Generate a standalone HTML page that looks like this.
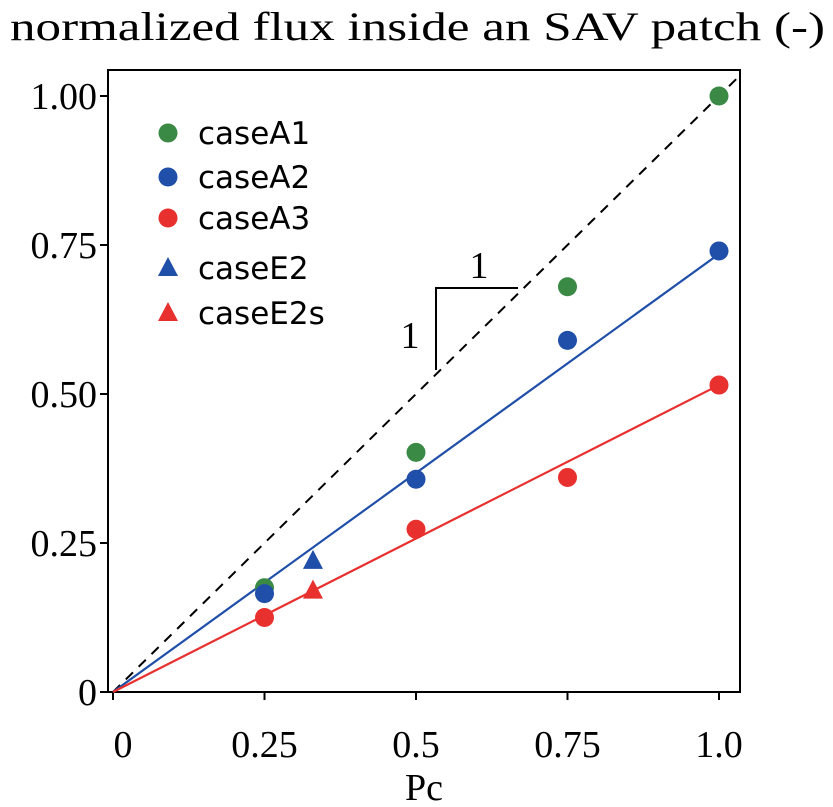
<!DOCTYPE html>
<html><head><meta charset="utf-8"><style>
html,body{margin:0;padding:0;background:#fff;}
svg{display:block;}
.serif{font-family:"Liberation Serif",serif;}
.sans{font-family:"DejaVu Sans","Liberation Sans",sans-serif;}
</style></head><body>
<svg id="chart" width="833" height="807">
<text class="serif" x="10" y="40" font-size="40" textLength="815" lengthAdjust="spacingAndGlyphs">normalized flux inside an SAV patch (-)</text>
<rect x="108" y="70" width="632" height="622" fill="none" stroke="#000" stroke-width="2"/>
<g id="axes"></g>
<g id="marks"></g>
<text class="serif" x="424" y="800" font-size="38" text-anchor="middle">Pc</text>
<g>
<polyline points="436,370 436,288 518,288" fill="none" stroke="#000" stroke-width="2"/>
<text class="serif" x="479" y="278" font-size="38" text-anchor="middle">1</text>
<text class="serif" x="410" y="348" font-size="38" text-anchor="middle">1</text>
</g>
<g id="legend"></g>
</svg>
<script>
const xTicks=[0,0.25,0.5,0.75,1.0];
const xTickLabels=["0","0.25","0.5","0.75","1.0"];
const yTicks=[0,0.25,0.5,0.75,1.0];
const yTickLabels=["0","0.25","0.50","0.75","1.00"];
const pcA=[0.25,0.5,0.75,1.0];
const caseA1=[0.175,0.402,0.68,1.0];
const caseA2=[0.165,0.357,0.59,0.74];
const caseA3=[0.125,0.273,0.36,0.515];
const pcE=[0.33];
const caseE2=[0.22];
const caseE2s=[0.17];
const slopeBlue=0.735;
const slopeRed=0.515;
const NS="http://www.w3.org/2000/svg";
const X=v=>113+v*606, Y=v=>692-v*596;
function mk(tag,attrs,parent,txt){const e=document.createElementNS(NS,tag);for(const k in attrs)e.setAttribute(k,attrs[k]);if(txt!==undefined)e.textContent=txt;parent.appendChild(e);return e;}
const axes=document.getElementById('axes'),marks=document.getElementById('marks'),legend=document.getElementById('legend');
xTicks.forEach((t,i)=>{
 const l=mk('line',{x1:X(t),x2:X(t),y1:692,y2:700,stroke:'#000','stroke-width':2},axes);
 
 
 const tx=mk('text',{x:X(t)+(i==0?10:0),y:757,'font-size':38,'text-anchor':'middle',class:'serif'},axes,xTickLabels[i]);
 
 
});
yTicks.forEach((t,i)=>{
 const l=mk('line',{x1:100,x2:108,y1:Y(t),y2:Y(t),stroke:'#000','stroke-width':2},axes);
 
 
 const tx=mk('text',{x:97,y:Y(t)+13,'font-size':38,'text-anchor':'end',class:'serif'},axes,yTickLabels[i]);
 
 
});
const d=mk('line',{x1:X(0),y1:Y(0),x2:740,y2:Y((740-113)/606),stroke:'#000','stroke-width':2,'stroke-dasharray':'10,8'},marks);


const lb=mk('line',{x1:X(0),y1:Y(0),x2:X(1),y2:Y(slopeBlue),stroke:'#1f4fa8','stroke-width':2.2},marks);


const lr=mk('line',{x1:X(0),y1:Y(0),x2:X(1),y2:Y(slopeRed),stroke:'#e8302e','stroke-width':2.2},marks);


const G='#3a8a45',B='#1f4fa8',R='#e8302e';
function dots(xs,ys,c,name){xs.forEach((x,i)=>{const e=mk('circle',{cx:X(x),cy:Y(ys[i]),r:9.5,fill:c},marks);
 
 });}
function tris(xs,ys,c,name){xs.forEach((x,i)=>{const cx=X(x),cy=Y(ys[i]);const e=mk('polygon',{points:`${cx},${cy-11} ${cx-10},${cy+8} ${cx+10},${cy+8}`,fill:c},marks);
 
 });}
dots(pcA,caseA1,G,'caseA1');dots(pcA,caseA2,B,'caseA2');dots(pcA,caseA3,R,'caseA3');
tris(pcE,caseE2,B,'caseE2');tris(pcE,caseE2s,R,'caseE2s');
const leg=[["caseA1",G,'c',133],["caseA2",B,'c',177],["caseA3",R,'c',218],["caseE2",B,'t',268],["caseE2s",R,'t',313]];
leg.forEach(([n,c,s,y])=>{
 const g=mk('g',{},legend);
 
 
 if(s=='c')mk('circle',{cx:168,cy:y,r:9.5,fill:c},g);
 else mk('polygon',{points:`168,${y-11} 158,${y+8} 178,${y+8}`,fill:c},g);
 mk('text',{x:198,y:y+11,'font-size':31,class:'sans'},g,n);
});
</script>
</body></html>
